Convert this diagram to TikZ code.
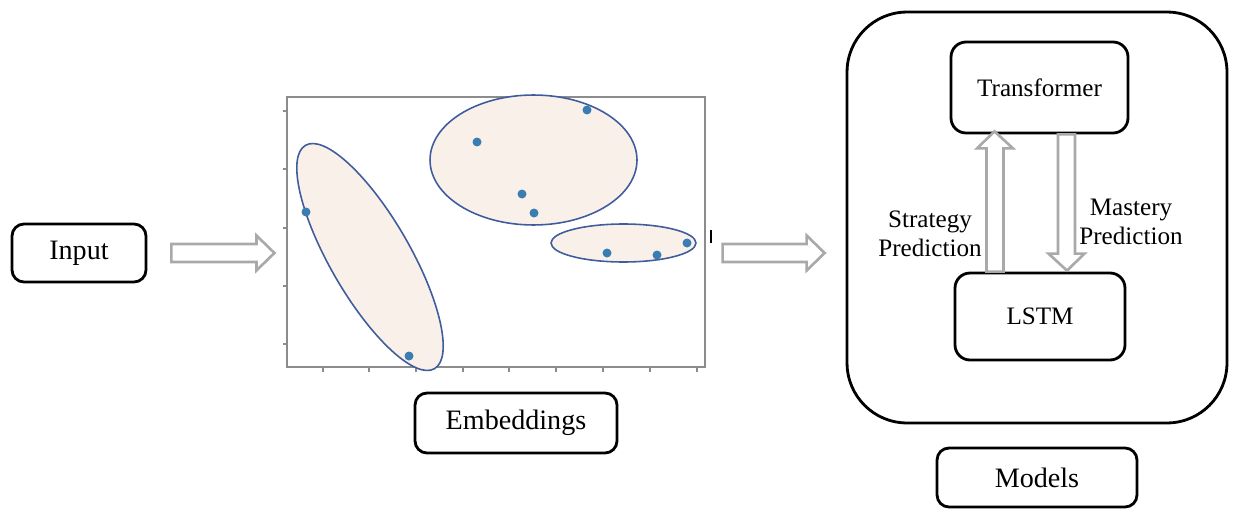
\documentclass[tikz,border=0pt]{standalone}
\usepackage{fontspec}
\setmainfont{Liberation Serif}
\usepackage{tikz}
\usetikzlibrary{positioning}
\usetikzlibrary{calc}

\definecolor{dotblue}{HTML}{3A7DB1}
\definecolor{rimblue}{HTML}{3F5C9C}
\definecolor{peach}{HTML}{FAF0EA}
\definecolor{arrowgray}{HTML}{A9A9A9}
\definecolor{framegray}{HTML}{8C8C8C}

\tikzset{
  labelbox/.style={draw, line width=1.6pt, rounded corners=0.24cm, font=\fontsize{16}{18}\selectfont},
  innerbox/.style={draw, line width=1.6pt, rounded corners=0.3cm, font=\fontsize{14.3}{16.5}\selectfont},
  cluster/.style={draw=rimblue, fill=peach, line width=0.9pt},
  hollow/.style={draw=arrowgray, fill=white, line width=1.5pt, line join=miter},
  arrowtext/.style={align=center, font=\fontsize{14.3}{16.5}\selectfont}
}

% fat outlined arrows, head at #2
\newcommand{\hollowH}[2]{%
  \draw[hollow] let \p1=(#1), \p2=(#2), \p3=($(#2)!0.36cm!(#1)$) in
    (\x1,\y1+0.18cm) -- (\x3,\y1+0.18cm) -- (\x3,\y1+0.35cm) -- (\x2,\y2)
    -- (\x3,\y1-0.35cm) -- (\x3,\y1-0.18cm) -- (\x1,\y1-0.18cm) -- cycle;}
\newcommand{\hollowV}[2]{%
  \draw[hollow] let \p1=(#1), \p2=(#2), \p3=($(#2)!0.34cm!(#1)$) in
    (\x1-0.17cm,\y1) -- (\x1-0.17cm,\y3) -- (\x1-0.36cm,\y3) -- (\x2,\y2)
    -- (\x1+0.36cm,\y3) -- (\x1+0.17cm,\y3) -- (\x1+0.17cm,\y1) -- cycle;}

\begin{document}
\begin{tikzpicture}[x=0.02cm, y=-0.02cm]

  \useasboundingbox (0,0) rectangle (1233,510);

	%input and labels
  \node[labelbox, minimum width=2.68cm, minimum height=1.16cm] (Input) at (79,253) {Input};
  \node[labelbox, minimum width=4.04cm, minimum height=1.2cm] (Embed) at (516,423) {Embeddings};
  \node[labelbox, minimum width=4.0cm, minimum height=1.18cm] (Models) at (1037,477.5) {Models};

	%scatter plot
  \node[draw=framegray, line width=0.7pt, minimum width=8.36cm, minimum height=5.4cm, inner sep=0pt] (plot) at (496,232) {};

    \foreach \y in {111,169,228,286,344}{
         \draw[framegray, line width=0.7pt] (283,\y) -- (287,\y);
    }
    \foreach \x in {323,369,416,463,509,556,603,650,697}{
         \draw[framegray, line width=0.7pt] (\x,367) -- (\x,372);
    }
  \draw[line width=0.8pt] (711,230) -- (711,243);

  \draw[cluster, rotate around={-60:(370,257)}] (370,257) ellipse [x radius=2.58cm, y radius=0.8cm];
  \draw[cluster] (533.5,160) ellipse [x radius=2.07cm, y radius=1.3cm];
  \draw[cluster] (623.5,243) ellipse [x radius=1.45cm, y radius=0.38cm];

    \foreach \x/\y in {306/212, 409/356, 477/142, 587/110, 522/194, 534/213, 607/253, 657/255, 687/243}{
         \fill[dotblue] (\x,\y) circle[radius=0.09cm];
    }

	%models
  \node[draw, line width=1.6pt, rounded corners=1.2cm, minimum width=7.6cm, minimum height=8.22cm] (modelbox) at (1037,217.5) {};
  \node[innerbox, minimum width=3.54cm, minimum height=1.82cm] (Trans) at (1039.5,87.5) {Transformer};
  \node[innerbox, minimum width=3.4cm, minimum height=1.74cm] (LSTM) at (1040,316.5) {LSTM};

  \node[arrowtext] (strat) at (930,234) {Strategy\\Prediction};
  \node[arrowtext] (mast) at (1131,222) {Mastery\\Prediction};

	%arrows
  \coordinate (a1s) at ($(Input.east)+(24,0)$);
  \coordinate (a1e) at ($(plot.west)+(-12,21)$);
  \coordinate (a2s) at ($(plot.east)+(17,21)$);
  \coordinate (a2e) at ($(modelbox.west)+(-21,35.5)$);
  \hollowH{a1s}{a1e}
  \hollowH{a2s}{a2e}

  \coordinate (ups) at ($(LSTM.north)+(-45,0)$);
  \coordinate (upe) at ($(Trans.south)+(-45,-3)$);
  \coordinate (dns) at ($(Trans.south)+(27,0)$);
  \coordinate (dne) at ($(LSTM.north)+(27,-1)$);
  \hollowV{ups}{upe}
  \hollowV{dns}{dne}

\end{tikzpicture}
\end{document}
